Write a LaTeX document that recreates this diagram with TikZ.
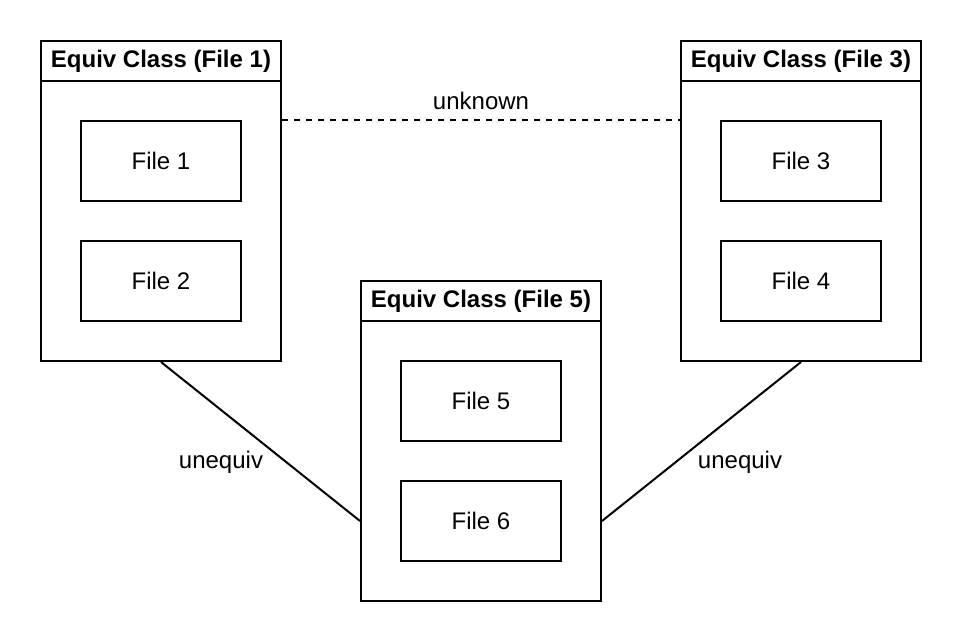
\documentclass[tikz,border=0pt]{standalone}
\usepackage{fontspec}
\setmainfont{Liberation Sans}
\begin{document}
\begin{tikzpicture}[x=1pt,y=-1pt,line width=2pt,
  every node/.style={font=\fontsize{24}{28}\selectfont,inner sep=0pt},
  classbox/.style={draw,rectangle,minimum width=240pt,minimum height=320pt},
  headbox/.style={draw,rectangle,minimum width=240pt,minimum height=40pt,font=\fontsize{24}{28}\selectfont\bfseries},
  filebox/.style={draw,rectangle,minimum width=160pt,minimum height=80pt}]
\useasboundingbox (0,0) rectangle (962,642);
\node[classbox] (class1) at (161,201) {};
\node[headbox] (head1) at (161,61) {Equiv Class (File 1)};
\node[filebox] (file1) at (161,161) {File 1};
\node[filebox] (file2) at (161,281) {File 2};

\node[classbox] (class3) at (801,201) {};
\node[headbox] (head3) at (801,61) {Equiv Class (File 3)};
\node[filebox] (file3) at (801,161) {File 3};
\node[filebox] (file4) at (801,281) {File 4};

\node[classbox] (class5) at (481,441) {};
\node[headbox] (head5) at (481,301) {Equiv Class (File 5)};
\node[filebox] (file5) at (481,401) {File 5};
\node[filebox] (file6) at (481,521) {File 6};

\path[draw,dash pattern=on 6pt off 6pt] (class1.east |- file1.north) -- (class3.west |- file3.north);
\path[draw,-] (class1.south) -- (class5.west |- file6);
\path[draw,-] (class3.south) -- (class5.east |- file6);

\node (unknown) at (481,101) {unknown};
\node (uneq1) at (221,462) {unequiv};
\node (uneq2) at (740,462) {unequiv};
\end{tikzpicture}
\end{document}
